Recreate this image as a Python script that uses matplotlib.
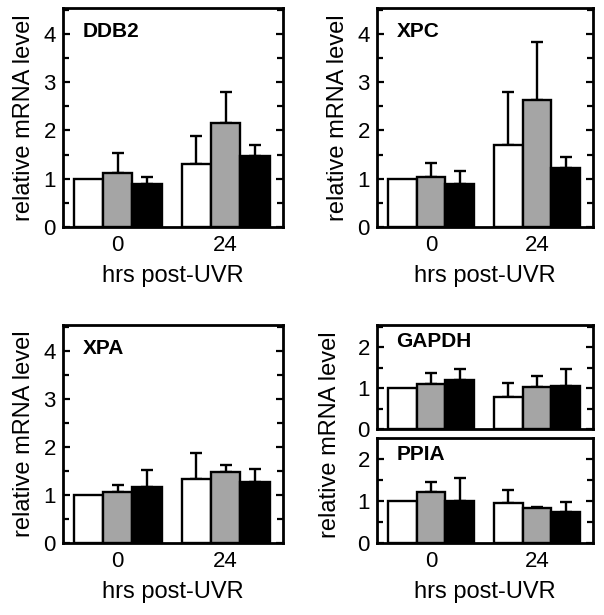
import matplotlib
import matplotlib.pyplot as plt
import numpy as np
from matplotlib.ticker import MultipleLocator

matplotlib.use("Agg")
plt.rcParams["font.family"] = ["Liberation Sans", "DejaVu Sans"]

timepoints = ["0", "24"]
fills = ["white", "#a5a5a5", "black"]

# mean values per gene: rows = timepoint, columns = condition
ddb2_mean = [[1.00, 1.11, 0.90], [1.30, 2.15, 1.48]]
ddb2_err = [[0.00, 0.42, 0.14], [0.59, 0.65, 0.22]]
xpc_mean = [[1.00, 1.04, 0.88], [1.70, 2.63, 1.23]]
xpc_err = [[0.00, 0.28, 0.29], [1.09, 1.21, 0.21]]
xpa_mean = [[1.00, 1.07, 1.16], [1.34, 1.47, 1.27]]
xpa_err = [[0.00, 0.14, 0.36], [0.53, 0.16, 0.27]]
gapdh_mean = [[1.00, 1.10, 1.19], [0.78, 1.03, 1.06]]
gapdh_err = [[0.00, 0.27, 0.28], [0.35, 0.26, 0.41]]
ppia_mean = [[1.00, 1.20, 1.00], [0.94, 0.82, 0.74]]
ppia_err = [[0.00, 0.24, 0.55], [0.32, 0.03, 0.23]]

W = 0.272
LBL = 17
TCK = 16


def draw_panel(ax, name, mean, err, ymax, show_x=True):
    mean = np.array(mean)
    err = np.array(err)
    x = np.arange(len(timepoints))
    for j in range(3):
        pos = x + (j - 1) * W
        ax.bar(pos, mean[:, j], width=W, color=fills[j], edgecolor="black",
               linewidth=1.7, zorder=3)
        e = err[:, j]
        keep = e > 0
        ax.errorbar(pos[keep], mean[keep, j],
                    yerr=[np.zeros(keep.sum()), e[keep]],
                    fmt="none", ecolor="black", elinewidth=1.7,
                    capsize=4, capthick=1.7, zorder=2)
    ax.set_xlim(-0.51, 1.53)
    ax.set_ylim(0, ymax)
    ax.yaxis.set_major_locator(MultipleLocator(1))
    ax.yaxis.set_minor_locator(MultipleLocator(0.5))
    ax.tick_params(axis="y", which="both", direction="in", left=True,
                   right=True, labelsize=TCK, width=1.6, pad=5)
    ax.tick_params(axis="y", which="major", length=5)
    ax.tick_params(axis="y", which="minor", length=4)
    ax.set_xticks(x)
    if show_x:
        ax.set_xticklabels(timepoints, fontsize=TCK)
    else:
        ax.set_xticklabels([])
    ax.tick_params(axis="x", length=0, pad=6)
    for s in ax.spines.values():
        s.set_linewidth(2.0)
    ax.text(0.09, 0.935, name, transform=ax.transAxes, fontsize=15,
            fontweight="bold", va="top", ha="left")


fig = plt.figure(figsize=(6.04, 6.15), dpi=100)

ax1 = fig.add_axes([0.104, 0.631, 0.364, 0.356])
draw_panel(ax1, "DDB2", ddb2_mean, ddb2_err, 4.54)
ax1.set_ylabel("relative mRNA level", fontsize=LBL, labelpad=6)
ax1.set_xlabel("hrs post-UVR", fontsize=LBL, labelpad=6)

ax2 = fig.add_axes([0.624, 0.631, 0.358, 0.356])
draw_panel(ax2, "XPC", xpc_mean, xpc_err, 4.54)
ax2.set_ylabel("relative mRNA level", fontsize=LBL, labelpad=6)
ax2.set_xlabel("hrs post-UVR", fontsize=LBL, labelpad=6)

ax3 = fig.add_axes([0.104, 0.117, 0.364, 0.355])
draw_panel(ax3, "XPA", xpa_mean, xpa_err, 4.54)
ax3.set_ylabel("relative mRNA level", fontsize=LBL, labelpad=6)
ax3.set_xlabel("hrs post-UVR", fontsize=LBL, labelpad=6)

ax4 = fig.add_axes([0.624, 0.302, 0.358, 0.170])
draw_panel(ax4, "GAPDH", gapdh_mean, gapdh_err, 2.55, show_x=False)

ax5 = fig.add_axes([0.624, 0.117, 0.358, 0.170])
draw_panel(ax5, "PPIA", ppia_mean, ppia_err, 2.48)
ax5.set_xlabel("hrs post-UVR", fontsize=LBL, labelpad=6)
fig.text(0.547, 0.294, "relative mRNA level", rotation=90, fontsize=LBL,
         ha="center", va="center")

fig.savefig("out.png", dpi=100)
